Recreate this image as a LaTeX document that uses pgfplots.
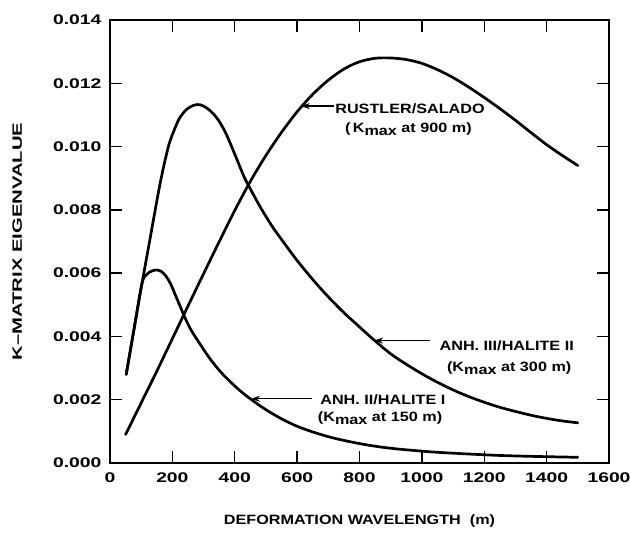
\documentclass[border=0pt]{standalone}
\usepackage{fontspec}
\usepackage{pgfplots}
\pgfplotsset{compat=1.18}
\usetikzlibrary{arrows.meta}
\newfontfamily\tickfont{Liberation Sans}[FakeStretch=1.38, BoldFeatures={FakeStretch=1.38}]
\newfontfamily\labfont{Liberation Sans}[FakeStretch=1.2, BoldFeatures={FakeStretch=1.2}]
\newfontfamily\yfont{Liberation Sans}[FakeStretch=1.5, BoldFeatures={FakeStretch=1.5}]
\newcommand{\annfont}{\labfont\bfseries\fontsize{13.5}{15}\selectfont}
\newcommand{\Kmax}{K\raisebox{-0.5ex}{max}}
\begin{document}
\begin{tikzpicture}
\begin{axis}[
  scale only axis, width=499pt, height=443pt,
  xmin=0, xmax=1600, ymin=0, ymax=0.014,
  xtick={0,200,...,1600},
  ytick={0,0.002,0.004,0.006,0.008,0.010,0.012,0.014},
  tick align=inside,
  major tick length=12pt,
  tick style={line width=1.3pt, black},
  axis line style={line width=1.5pt},
  scaled y ticks=false,
  /pgf/number format/assume math mode=true,
  tick label style={font=\tickfont\bfseries\fontsize{14}{16}\selectfont},
  yticklabel style={/pgf/number format/.cd, fixed, fixed zerofill, precision=3, /tikz/.cd, xshift=-5pt},
  xticklabel style={/pgf/number format/1000 sep={}, yshift=-6pt},
  xlabel={DEFORMATION WAVELENGTH\ \ (m)},
  ylabel={K\textendash MATRIX EIGENVALUE},
  xlabel style={font=\labfont\bfseries\fontsize{13.5}{15}\selectfont, at={(axis description cs:0.5,-0.131)}, anchor=center},
  ylabel style={font=\yfont\bfseries\fontsize{13.5}{15}\selectfont, at={(axis description cs:-0.186,0.5)}, anchor=center},
  cycle list={{black, no markers}},
  every axis plot/.append style={line width=2.7pt, smooth, line join=round, line cap=round},
]
% ANH. II / HALITE I
\addplot coordinates {(52,0.0028) (80,0.0044) (103,0.0057) (120,0.00598) (135,0.00607) (150,0.0061) (165,0.00605) (180,0.0059) (195,0.00565) (210,0.0053) (225,0.00495) (240,0.0046) (260,0.0042) (286,0.0038) (313,0.0034) (340,0.00305) (367,0.00275) (394,0.00249) (420,0.00226) (451,0.00202) (499,0.00169) (555,0.00137) (605,0.00114) (660,0.00095) (712,0.0008) (766,0.00068) (819,0.00058) (872,0.0005) (925,0.00044) (1032,0.00035) (1139,0.00029) (1246,0.00024) (1352,0.00021) (1500,0.00018)};
% ANH. III / HALITE II
\addplot coordinates {(52,0.0028) (80,0.0044) (103,0.0057) (125,0.0069) (145,0.0080) (160,0.0088) (175,0.0095) (190,0.0101) (205,0.0105) (222,0.01088) (245,0.01117) (270,0.01131) (290,0.01132) (310,0.01122) (330,0.01105) (350,0.0108) (370,0.01045) (390,0.0100) (410,0.00952) (432,0.0090) (460,0.00848) (486,0.00802) (520,0.00748) (551,0.00705) (600,0.0064) (650,0.0058) (700,0.00525) (750,0.00475) (800,0.0043) (845,0.0039) (900,0.00345) (950,0.00312) (1000,0.00282) (1050,0.00255) (1100,0.00231) (1150,0.0021) (1200,0.00192) (1250,0.00176) (1300,0.00163) (1350,0.00151) (1400,0.00141) (1450,0.00133) (1500,0.00127)};
% RUSTLER / SALADO
\addplot coordinates {(50,0.0009) (100,0.0019) (150,0.0029) (200,0.00393) (250,0.00496) (300,0.00598) (350,0.00699) (400,0.00798) (450,0.0089) (500,0.00972) (550,0.01045) (600,0.0111) (650,0.01165) (700,0.0121) (750,0.01245) (800,0.01268) (850,0.01279) (900,0.0128) (950,0.01275) (1000,0.01263) (1050,0.01243) (1100,0.01218) (1150,0.01188) (1200,0.01155) (1250,0.0112) (1300,0.01083) (1350,0.01044) (1400,0.01006) (1450,0.00972) (1500,0.0094)};
% annotations
\draw[line width=1.2pt, -{Stealth[length=9pt,width=6pt]}] (axis cs:719,0.01128) -- (axis cs:612,0.01128);
\draw[line width=1.2pt, -{Stealth[length=9pt,width=6pt]}] (axis cs:1027,0.00387) -- (axis cs:847,0.00387);
\draw[line width=1.2pt, -{Stealth[length=9pt,width=6pt]}] (axis cs:648,0.00203) -- (axis cs:452,0.00203);
\node[anchor=base, font=\annfont] at (axis cs:962,0.01105) {RUSTLER/SALADO};
\node[anchor=base, font=\annfont] at (axis cs:957,0.01045) {(\,\Kmax\ at 900 m)};
\node[anchor=base, font=\annfont] at (axis cs:1272,0.00355) {ANH. III/HALITE II};
\node[anchor=base, font=\annfont] at (axis cs:1280,0.0029) {(\Kmax\ at 300 m)};
\node[anchor=base, font=\annfont] at (axis cs:875,0.00185) {ANH. II/HALITE I};
\node[anchor=base, font=\annfont] at (axis cs:866,0.00132) {(\Kmax\ at 150 m)};
\end{axis}
\pgfresetboundingbox
\path ([shift={(-110pt,-70pt)}]current axis.south west) rectangle ([shift={(22pt,20pt)}]current axis.north east);
\end{tikzpicture}
\end{document}
